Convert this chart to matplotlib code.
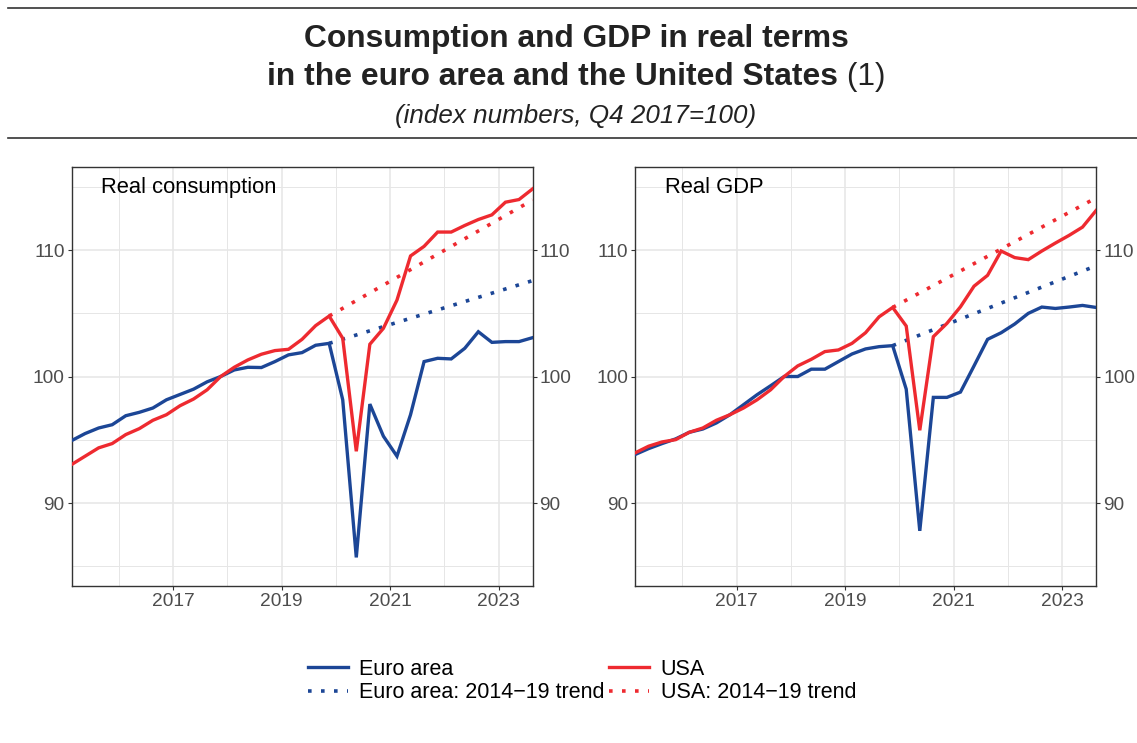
import matplotlib.pyplot as plt
import numpy as np
import pandas as pd
from matplotlib.ticker import FixedLocator

plt.rcParams["font.family"] = ["Liberation Sans", "DejaVu Sans"]

# quarterly observations, 2015Q1 - 2023Q3
quarters = pd.period_range("2015Q1", "2023Q3", freq="Q")

ea_cons = [94.93, 95.49, 95.93, 96.19, 96.90, 97.17, 97.51, 98.16, 98.58, 99.00,
           99.58, 100.0, 100.52, 100.73, 100.71, 101.18, 101.71, 101.89, 102.47, 102.62,
           98.16, 85.7, 97.82, 95.28, 93.70, 96.98, 101.18, 101.44, 101.39, 102.23,
           103.54, 102.70, 102.76, 102.76, 103.07]
us_cons = [93.04, 93.70, 94.36, 94.70, 95.41, 95.88, 96.54, 96.98, 97.69, 98.22,
           98.95, 100.0, 100.73, 101.31, 101.76, 102.05, 102.15, 102.94, 104.02, 104.78,
           103.02, 94.09, 102.55, 103.81, 106.04, 109.53, 110.29, 111.42, 111.42, 111.94,
           112.41, 112.78, 113.78, 113.99, 114.83]
ea_gdp = [93.83, 94.30, 94.70, 95.07, 95.59, 95.85, 96.33, 96.98, 97.77, 98.56,
          99.27, 100.0, 100.0, 100.58, 100.58, 101.18, 101.78, 102.18, 102.36, 102.44,
          99.0, 87.8, 98.35, 98.35, 98.77, 100.84, 102.94, 103.46, 104.15, 104.99,
          105.49, 105.38, 105.49, 105.62, 105.46]
us_gdp = [93.96, 94.49, 94.83, 95.01, 95.59, 95.93, 96.54, 96.98, 97.51, 98.16,
          98.95, 100.0, 100.84, 101.36, 101.97, 102.10, 102.62, 103.46, 104.72, 105.46,
          103.99, 95.75, 103.15, 104.2, 105.51, 107.14, 108.0, 109.92, 109.40, 109.24,
          109.92, 110.55, 111.15, 111.81, 113.12]

# 2014-19 trend lines (start 2019Q4, end 2023Q3)
trend_quarters = pd.PeriodIndex(["2019Q4", "2023Q3"], freq="Q")
ea_cons_trend = [102.62, 107.58]
us_cons_trend = [104.78, 113.95]
ea_gdp_trend = [102.44, 108.75]
us_gdp_trend = [105.46, 114.12]


def to_year(p):
    # middle of quarter as fractional year
    return np.array([q.year + (q.quarter - 1) / 4 + 0.125 for q in p])


x = to_year(quarters)
xt = to_year(trend_quarters)

BLUE = "#1c4696"
RED = "#ee2a30"
GRID = "#e6e6e6"
TXT = "#4d4d4d"
DOTS = (0, (1, 2.6))

fig = plt.figure(figsize=(11.37, 7.43), dpi=100)

panels = [
    ("Real consumption", ea_cons, us_cons, ea_cons_trend, us_cons_trend, 0.0629),
    ("Real GDP", ea_gdp, us_gdp, ea_gdp_trend, us_gdp_trend, 0.5585),
]

for name, ea, us, ea_tr, us_tr, left in panels:
    ax = fig.add_axes([left, 0.2113, 0.4055, 0.5639])
    ax.plot(xt, ea_tr, color=BLUE, lw=2.6, linestyle=DOTS, zorder=3)
    ax.plot(xt, us_tr, color=RED, lw=2.6, linestyle=DOTS, zorder=3)
    ax.plot(x, ea, color=BLUE, lw=2.4, solid_joinstyle="miter", zorder=4)
    ax.plot(x, us, color=RED, lw=2.4, solid_joinstyle="miter", zorder=5)

    ax.set_xlim(x[0], x[-1])
    ax.set_ylim(83.44, 116.56)
    ax.xaxis.set_major_locator(FixedLocator([2017, 2019, 2021, 2023]))
    ax.xaxis.set_minor_locator(FixedLocator([2016, 2018, 2020, 2022]))
    ax.yaxis.set_major_locator(FixedLocator([90, 100, 110]))
    ax.yaxis.set_minor_locator(FixedLocator([85, 95, 105, 115]))
    ax.set_xticklabels(["2017", "2019", "2021", "2023"])
    ax.grid(True, which="major", color=GRID, lw=1.1, zorder=0)
    ax.grid(True, which="minor", color=GRID, lw=0.7, zorder=0)
    ax.set_axisbelow(True)
    ax.tick_params(which="major", length=3, width=0.8, color="#333333",
                   labelsize=13.8, labelcolor=TXT, right=True, labelright=True, pad=2)
    ax.tick_params(which="minor", length=0)
    for s in ax.spines.values():
        s.set_color("#333333")
        s.set_linewidth(1.0)
    ax.text(0.064, 0.938, name, transform=ax.transAxes, fontsize=15.8,
            color="black", va="baseline", ha="left")

# title block
fig.add_artist(plt.Line2D([8 / 1137, 1], [1 - 8 / 743] * 2, color="#333333", lw=1.2))
fig.add_artist(plt.Line2D([8 / 1137, 1], [1 - 138 / 743] * 2, color="#333333", lw=1.2))

cx = 576 / 1137
fig.text(cx, 1 - 47 / 743, "Consumption and GDP in real terms", ha="center",
         va="baseline", fontsize=22.9, fontweight="bold", color="#222222")
t_bold = fig.text(cx, 1 - 85 / 743, "in the euro area and the United States",
                  ha="left", va="baseline", fontsize=22.9, fontweight="bold", color="#222222")
t_reg = fig.text(cx, 1 - 85 / 743, " (1)", ha="left", va="baseline", fontsize=22.9,
                 color="#222222")
fig.text(cx, 1 - 123 / 743, "(index numbers, Q4 2017=100)", ha="center",
         va="baseline", fontsize=18.7, fontstyle="italic", color="#222222")

fig.canvas.draw()
r = fig.canvas.get_renderer()
wb = t_bold.get_window_extent(r).width
wr = t_reg.get_window_extent(r).width
start = cx * 1137 - (wb + wr) / 2
t_bold.set_x(start / 1137)
t_reg.set_x((start + wb) / 1137)

# legend
h_ea, = plt.plot([], [], color=BLUE, lw=2.4)
h_ea_t, = plt.plot([], [], color=BLUE, lw=2.6, linestyle=DOTS)
h_us, = plt.plot([], [], color=RED, lw=2.4)
h_us_t, = plt.plot([], [], color=RED, lw=2.6, linestyle=DOTS)
fig.legend([h_ea, h_ea_t, h_us, h_us_t],
           ["Euro area", "Euro area: 2014\u221219 trend", "USA", "USA: 2014\u221219 trend"],
           ncol=2, loc="center", bbox_to_anchor=(582 / 1137, 1 - 681 / 743),
           frameon=False, fontsize=15.5, handlelength=1.85, handletextpad=0.55,
           columnspacing=0.2, labelspacing=0.1)

fig.savefig("out.png", dpi=100, facecolor="white")
